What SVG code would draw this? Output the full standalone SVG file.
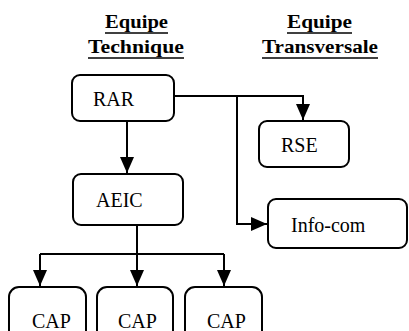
<svg xmlns="http://www.w3.org/2000/svg" width="409" height="331" viewBox="0 0 409 331">
<defs>
<marker id="arr" markerUnits="userSpaceOnUse" markerWidth="16" markerHeight="16" refX="16" refY="7" orient="auto">
<path d="M0,0 L16,7 L0,14 Z" fill="#000"/>
</marker>
</defs>
<rect width="409" height="331" fill="#fff"/>
<g id="titles">
<text font-family="Times New Roman" font-size="19" font-weight="bold" x="105" y="28" textLength="63" lengthAdjust="spacingAndGlyphs">Equipe</text>
<text font-family="Times New Roman" font-size="19" font-weight="bold" x="88" y="53" textLength="96" lengthAdjust="spacingAndGlyphs">Technique</text>
<text font-family="Times New Roman" font-size="19" font-weight="bold" x="287" y="28" textLength="65" lengthAdjust="spacingAndGlyphs">Equipe</text>
<text font-family="Times New Roman" font-size="19" font-weight="bold" x="262" y="53" textLength="116" lengthAdjust="spacingAndGlyphs">Transversale</text>
<g stroke="#000" stroke-width="1.5">
<line x1="105" y1="33" x2="168" y2="33"/>
<line x1="88" y1="58" x2="184" y2="58"/>
<line x1="287" y1="33" x2="352" y2="33"/>
<line x1="262" y1="58" x2="378" y2="58"/>
</g>
</g>
<g id="connectors" fill="none" stroke="#000" stroke-width="2">
<path d="M174,96 H303 V120" marker-end="url(#arr)"/>
<path d="M237,96 V224 H267" marker-end="url(#arr)"/>
<path d="M127,121 V173" marker-end="url(#arr)"/>
<path d="M137,225 V286" marker-end="url(#arr)"/>
<path d="M40,254 H224"/>
<path d="M40,254 V286" marker-end="url(#arr)"/>
<path d="M224,254 V286" marker-end="url(#arr)"/>
</g>
<g id="rar">
<rect fill="#fff" stroke="#000" stroke-width="2" x="72" y="75" width="102" height="46" rx="8"/>
<text font-family="Times New Roman" font-size="20" x="93" y="106">RAR</text>
</g>
<g id="rse">
<rect fill="#fff" stroke="#000" stroke-width="2" x="259" y="121" width="90" height="46" rx="8"/>
<text font-family="Times New Roman" font-size="20" x="281" y="152">RSE</text>
</g>
<g id="aeic">
<rect fill="#fff" stroke="#000" stroke-width="2" x="73" y="174" width="110" height="51" rx="8"/>
<text font-family="Times New Roman" font-size="20" x="96" y="207">AEIC</text>
</g>
<g id="infocom">
<rect fill="#fff" stroke="#000" stroke-width="2" x="268" y="199" width="139" height="49" rx="8"/>
<text font-family="Times New Roman" font-size="20" x="291" y="232">Info-com</text>
</g>
<g id="cap1">
<rect fill="#fff" stroke="#000" stroke-width="2" x="9" y="287" width="77" height="60" rx="10"/>
<text font-family="Times New Roman" font-size="20" x="32" y="328">CAP</text>
</g>
<g id="cap2">
<rect fill="#fff" stroke="#000" stroke-width="2" x="97" y="287" width="76" height="60" rx="10"/>
<text font-family="Times New Roman" font-size="20" x="118" y="328">CAP</text>
</g>
<g id="cap3">
<rect fill="#fff" stroke="#000" stroke-width="2" x="185" y="287" width="77" height="60" rx="10"/>
<text font-family="Times New Roman" font-size="20" x="207" y="328">CAP</text>
</g>
</svg>
